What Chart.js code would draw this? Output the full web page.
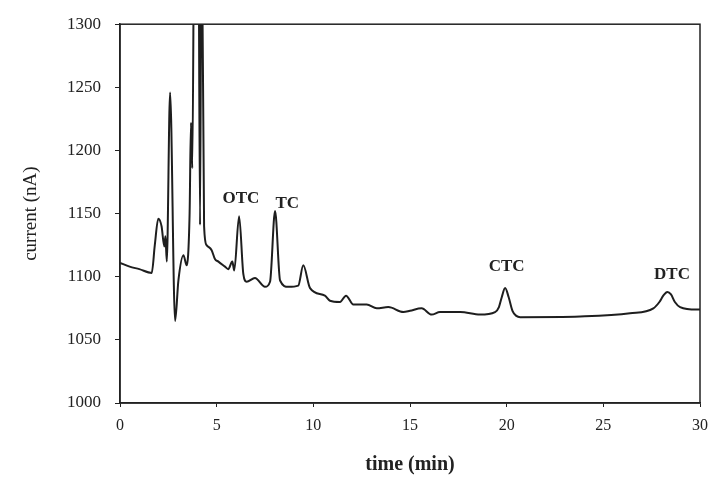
<!DOCTYPE html>
<html>
<head>
<meta charset="utf-8">
<script src="https://cdn.jsdelivr.net/npm/chart.js@4.4.0/dist/chart.umd.min.js"></script>
<style>
  html, body { margin: 0; padding: 0; background: #fff; }
  #wrap { width: 710px; height: 477px; }
</style>
</head>
<body>
<div id="wrap"><canvas id="c"></canvas></div>
<script>
// retention time (min) and detector current (nA)
var time = [0, 0.5, 1.0, 1.64, 1.8, 1.98, 2.15, 2.29, 2.35, 2.42, 2.59, 2.85, 3.02, 3.28, 3.45, 3.6, 3.67, 3.74,
  3.85, 4.05, 4.14, 4.22, 4.35, 4.48, 4.74, 4.91, 5.09, 5.43, 5.6, 5.81, 5.91, 6.16, 6.38, 6.55, 6.98, 7.5, 7.76,
  8.02, 8.28, 8.71, 9.22, 9.48, 9.83, 10.6, 10.86, 11.38, 11.69, 12.07, 12.76, 13.28, 13.88, 14.66, 15.0, 15.6,
  16.12, 16.55, 17.6, 18.62, 19.4, 19.6, 19.75, 19.92, 20.1, 20.3, 20.5, 20.7, 23.8, 26.38, 27.59, 27.9, 28.1,
  28.31, 28.5, 28.7, 28.97, 29.83, 30];
var current = [1111, 1108, 1106, 1103, 1125, 1146, 1140, 1124, 1132, 1112, 1246, 1065, 1097, 1117, 1109, 1150, 1222, 1186,
  1400, 1400, 1141, 1400, 1140, 1125, 1121, 1114, 1112, 1108, 1106, 1112, 1105, 1148, 1102, 1096, 1099, 1092, 1096,
  1152, 1097, 1092, 1093, 1109, 1091, 1085, 1081, 1080, 1085, 1078, 1078, 1075, 1076, 1072, 1073, 1075,
  1070, 1072, 1072, 1070, 1072, 1076, 1084, 1091, 1084, 1073, 1069, 1068, 1068.5, 1071, 1075, 1080, 1085,
  1088, 1086, 1080, 1076, 1074, 1074];

// peak names and where they are written (data coordinates)
var peakNames = ['OTC', 'TC', 'CTC', 'DTC'];
var peakX = [6.25, 8.65, 20.0, 28.55];
var peakY = [1155, 1151, 1101, 1095];

var yTicks = [1000, 1050, 1100, 1150, 1200, 1250, 1300];

var points = time.map(function (t, i) { return { x: t, y: current[i] }; });

var frame = {
  id: 'frame',
  afterDatasetsDraw: function (chart) {
    var a = chart.chartArea, ctx = chart.ctx;
    ctx.save();
    ctx.strokeStyle = '#222';
    ctx.lineWidth = 1.5;
    ctx.strokeRect(a.left, a.top, a.right - a.left, a.bottom - a.top);
    ctx.fillStyle = '#222';
    ctx.font = 'bold 17px "Liberation Serif"';
    ctx.textAlign = 'center';
    ctx.textBaseline = 'bottom';
    var xs = chart.scales.x, ys = chart.scales.y;
    peakNames.forEach(function (n, i) {
      ctx.fillText(n, xs.getPixelForValue(peakX[i]), ys.getPixelForValue(peakY[i]));
    });
    ctx.restore();
  }
};

new Chart(document.getElementById('c'), {
  type: 'line',
  data: {
    datasets: [{
      data: points,
      borderColor: '#1e1e1e',
      borderWidth: 2,
      pointRadius: 0,
      cubicInterpolationMode: 'monotone',
      fill: false
    }]
  },
  options: {
    responsive: true,
    maintainAspectRatio: false,
    animation: false,
    layout: { padding: { top: 23, right: 10, left: 0, bottom: 0 } },
    plugins: { legend: { display: false }, tooltip: { enabled: false } },
    scales: {
      x: {
        type: 'linear', min: 0, max: 30,
        border: { color: '#222', width: 1.5 },
        grid: { drawOnChartArea: false, color: '#222', tickLength: 4 },
        ticks: { stepSize: 5, color: '#222', padding: 9, maxRotation: 0,
          callback: function (v) { return String(v); },
          font: { family: 'Liberation Serif', size: 16 } },
        title: { display: true, text: 'time (min)', color: '#222', padding: { top: 9, bottom: 0 },
          font: { family: 'Liberation Serif', size: 20, weight: 'bold' } },
        afterFit: function (s) { s.height = 74; s.paddingLeft = 0; s.paddingRight = 0; }
      },
      y: {
        type: 'linear', min: 1000, max: 1300,
        border: { color: '#222', width: 1.5 },
        grid: { drawOnChartArea: false, color: '#222', tickLength: 5 },
        afterBuildTicks: function (s) { s.ticks = yTicks.map(function (v) { return { value: v }; }); },
        ticks: { color: '#222', padding: 14,
          callback: function (v) { return String(v); },
          font: { family: 'Liberation Serif', size: 17 } },
        title: { display: true, text: 'current (nA)', color: '#222', padding: { top: 20, bottom: 0 },
          font: { family: 'Liberation Serif', size: 19 } },
        afterFit: function (s) { s.width = 120; }
      }
    }
  },
  plugins: [frame]
});
</script>
</body>
</html>
